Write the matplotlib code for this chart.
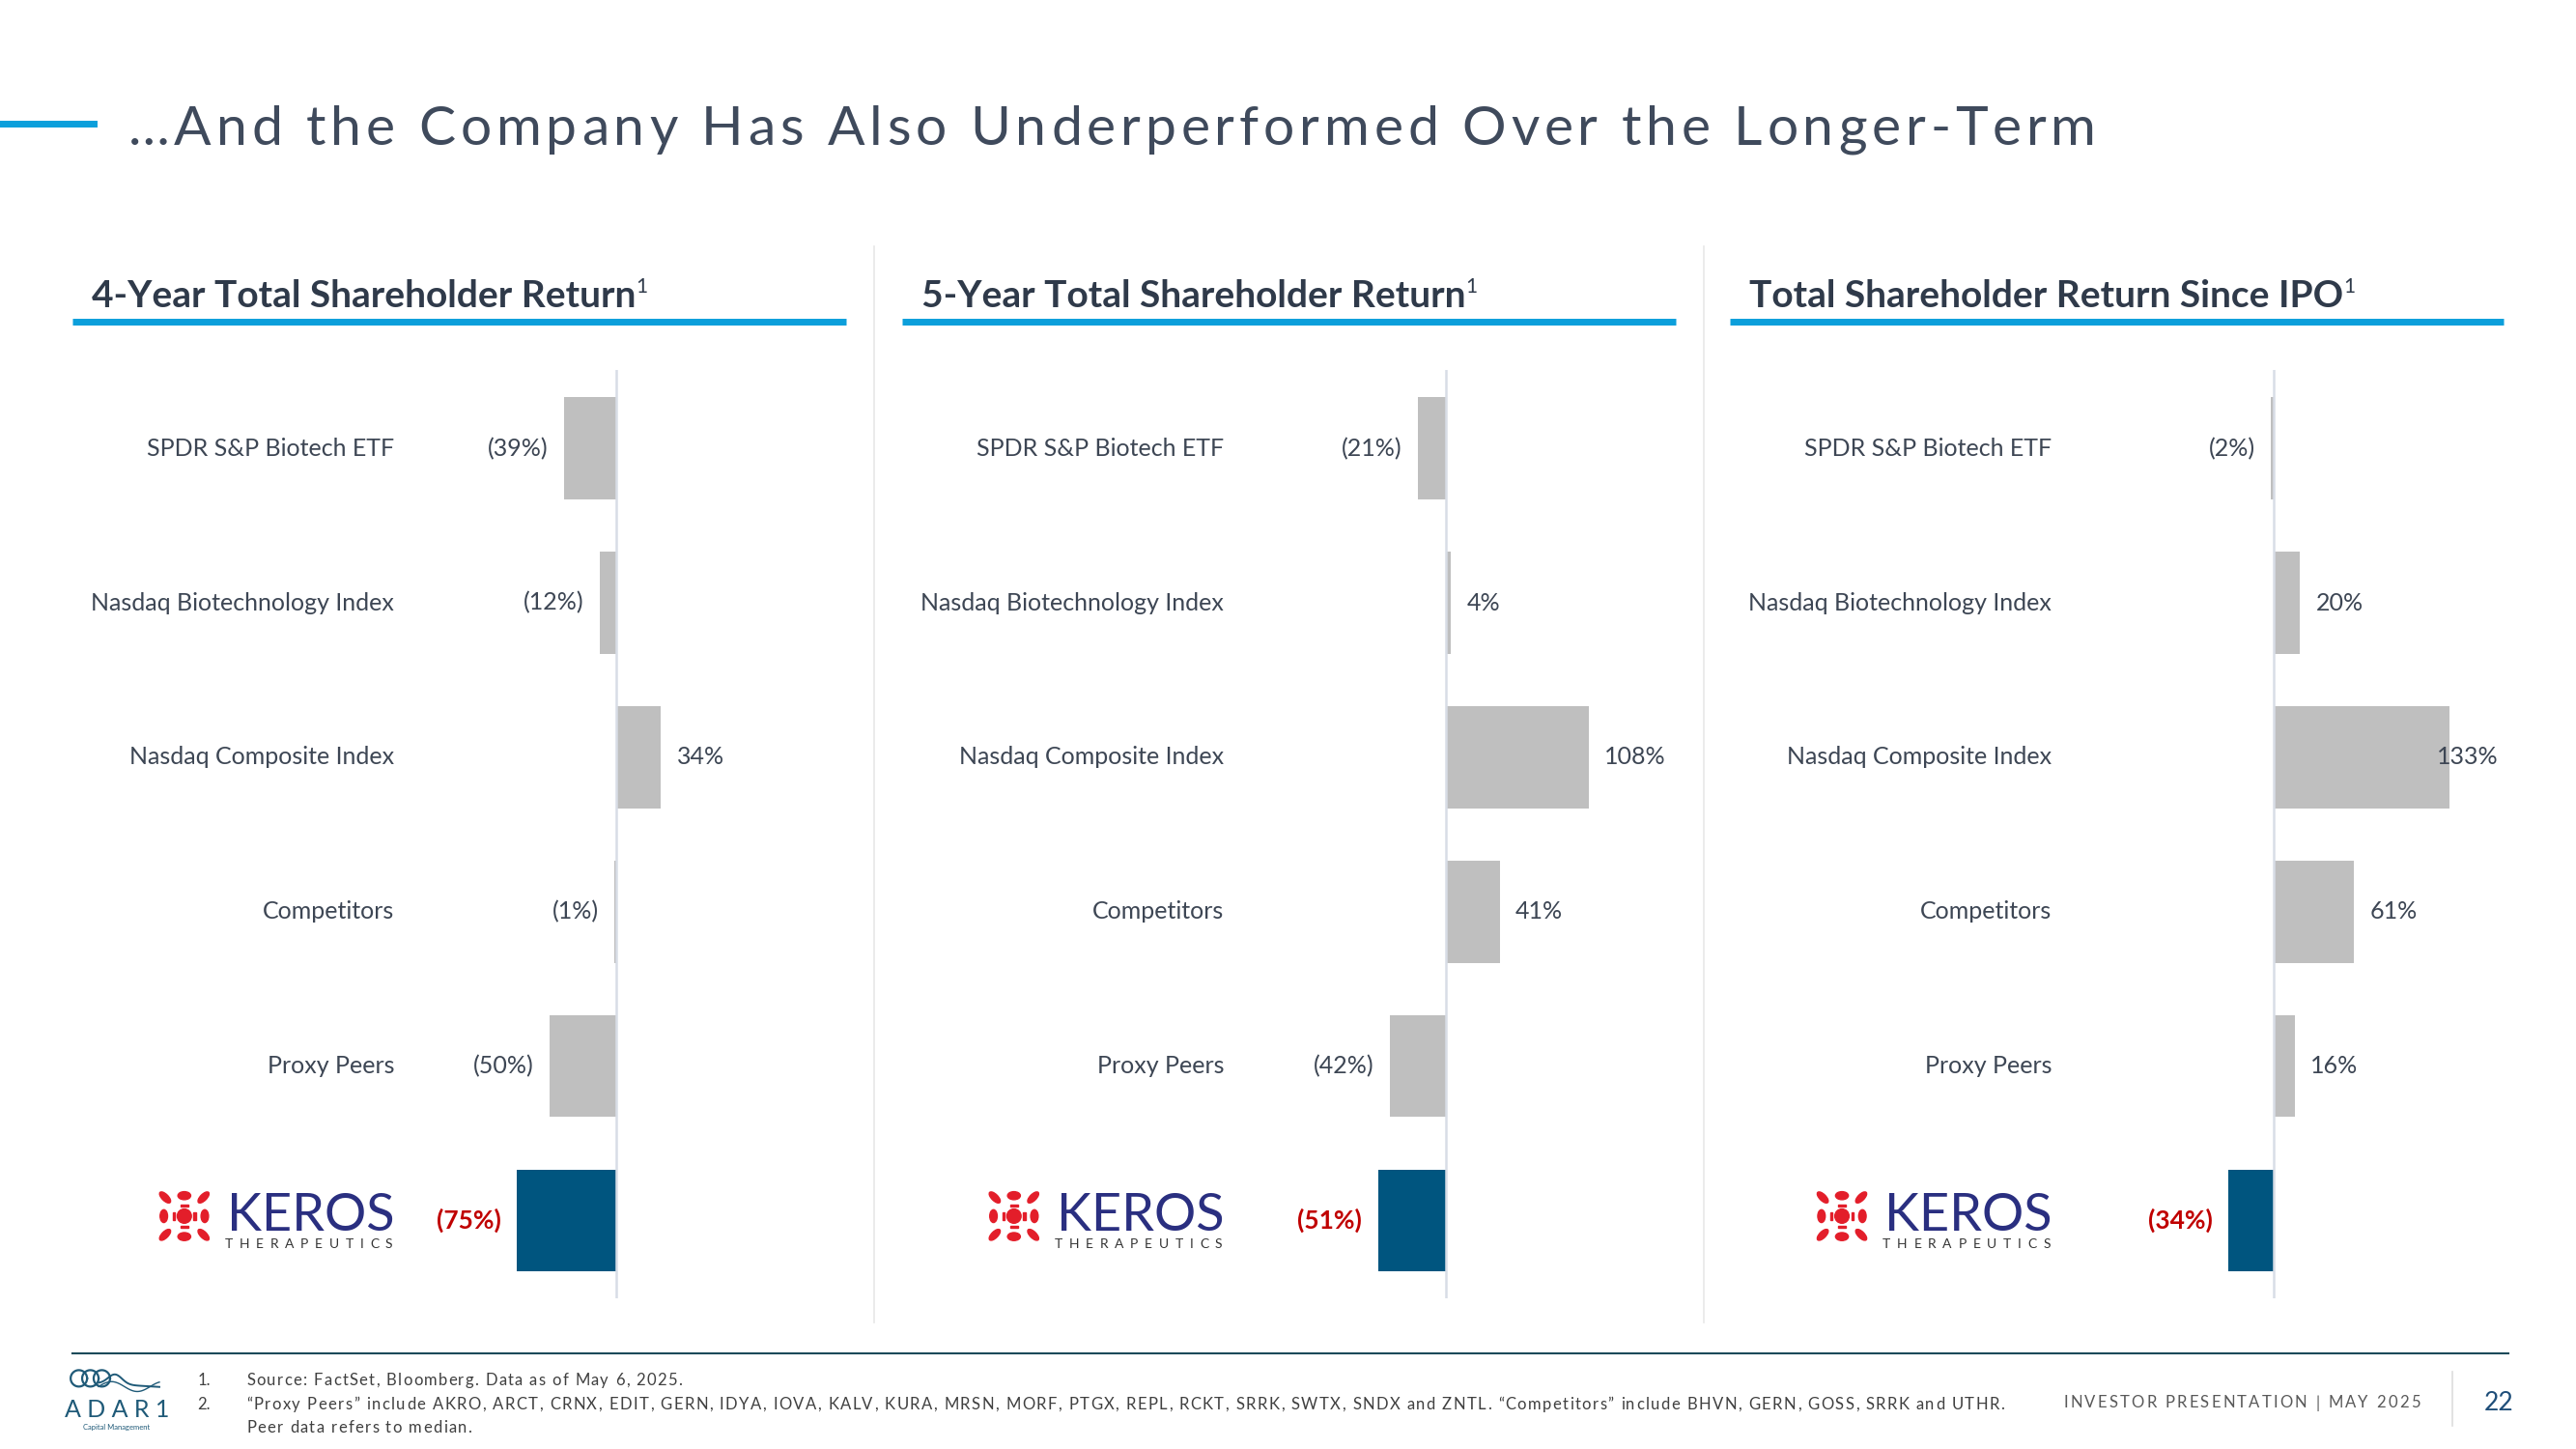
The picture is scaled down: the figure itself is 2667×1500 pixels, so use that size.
import numpy as np
import matplotlib.pyplot as plt
import matplotlib.transforms as mtrans
from matplotlib.patches import Ellipse, Rectangle, Circle

plt.rcParams['font.family'] = ['Lato', 'DejaVu Sans']

# ---- data ----
categories = ["SPDR S&P Biotech ETF", "Nasdaq Biotechnology Index",
              "Nasdaq Composite Index", "Competitors", "Proxy Peers", "Keros Therapeutics"]
tsr_4yr = [-39, -12, 34, -1, -50, -75]
tsr_5yr = [-21, 4, 108, 41, -42, -51]
tsr_ipo = [-2, 20, 133, 61, 16, -34]
panel_titles = ["4-Year Total Shareholder Return",
                "5-Year Total Shareholder Return",
                "Total Shareholder Return Since IPO"]
panel_data = [tsr_4yr, tsr_5yr, tsr_ipo]

slide_title = "\u2026And the Company Has Also Underperformed Over the Longer-Term"
footnotes = [
    ("1.", "Source: FactSet, Bloomberg. Data as of May 6, 2025."),
    ("2.", "\u201cProxy Peers\u201d include AKRO, ARCT, CRNX, EDIT, GERN, IDYA, IOVA, KALV, KURA, MRSN, MORF, PTGX, "
           "REPL, RCKT, SRRK, SWTX, SNDX and ZNTL. \u201cCompetitors\u201d include BHVN, GERN, GOSS, SRRK and UTHR."),
    ("", "Peer data refers to median."),
]

# ---- colours ----
TXT = '#3d4654'
BLUE = '#0c9fdb'
GRAY_BAR = '#bfbfbf'
KEROS_BAR = '#00557f'
RED = '#c00000'
NAVY = '#2a2f80'
TEAL = '#1f5a78'

W0, H0 = 1568.0, 882.0   # layout grid of the slide


def fx(x):
    return x / W0


def fy(y):
    return 1 - y / H0


fig = plt.figure(figsize=(26.67, 15), dpi=100)
fig.patch.set_facecolor('white')
renderer = fig.canvas.get_renderer()
px_per_unit = fig.bbox.width / W0


def text_width(s, **kw):
    # width in slide units, trailing spaces kept with a sentinel
    t = fig.text(0, 0, s + "|", **kw)
    t2 = fig.text(0, 0, "|", **kw)
    w = t.get_window_extent(renderer).width - t2.get_window_extent(renderer).width
    t.remove()
    t2.remove()
    return w / px_per_unit


def tracked_text(x, y, s, target_width, **kw):
    # letter-spaced text stretched to the width it takes on the slide
    natural = text_width(s, **kw)
    track = (target_width - natural) / max(len(s) - 1, 1)
    for i, ch in enumerate(s):
        if ch == ' ':
            continue
        xi = x + text_width(s[:i], **kw) + i * track
        fig.text(fx(xi), fy(y), ch, ha='left', **kw)


# title
fig.add_artist(plt.Line2D([fx(0), fx(57)], [fy(75), fy(75)], color=BLUE, lw=5))
tracked_text(78, 79, slide_title, 1198, fontsize=41, color='#3f4a5c', va='center')

# separators between panels
for xs in [532, 1037]:
    fig.add_artist(plt.Line2D([fx(xs), fx(xs)], [fy(150), fy(805)], color='#e8e8e8', lw=1.2))

XMIN, XMAX = -411, 174
LABEL_X = 0.416
GAP = 12


def draw_keros_icon(x0, y0, size):
    iax = fig.add_axes([fx(x0), fy(y0 + size), fx(size), size / H0])
    iax.set_xlim(0, 3)
    iax.set_ylim(0, 3)
    iax.set_aspect('equal')
    iax.axis('off')
    red = '#e31e2a'
    iax.add_patch(Circle((1.5, 1.5), 0.4, color=red))
    for (cx, cy, w, h) in [(1.5, 2.65, 0.72, 0.45), (1.5, 0.35, 0.72, 0.45),
                           (0.35, 1.5, 0.42, 0.72), (2.65, 1.5, 0.42, 0.72)]:
        iax.add_patch(Ellipse((cx, cy), w, h, color=red))
    for (cx, cy, w, h) in [(1.5, 2.08, 0.42, 0.12), (1.5, 0.92, 0.42, 0.12),
                           (0.92, 1.5, 0.12, 0.42), (2.08, 1.5, 0.12, 0.42)]:
        iax.add_patch(Rectangle((cx - w / 2, cy - h / 2), w, h, color=red))
    for (cx, cy, ang) in [(0.42, 2.55, -45), (2.58, 2.55, 45), (0.42, 0.45, 45), (2.58, 0.45, -45)]:
        iax.add_patch(Ellipse((cx, cy), 0.8, 0.36, angle=ang, color=red))


panel_lefts = [44, 549, 1053]
for p, (left, title, vals) in enumerate(zip(panel_lefts, panel_titles, panel_data)):
    # header + underline
    hkw = dict(fontsize=28, fontweight='bold', color='#2f3a4a')
    fig.text(fx(left + 12), fy(187), title, ha='left', va='baseline', **hkw)
    hw = text_width(title, **hkw)
    fig.text(fx(left + 12 + hw), fy(178), "1", fontsize=15, color='#2f3a4a',
             ha='left', va='baseline')
    fig.add_artist(plt.Line2D([fx(left), fx(left + 471)], [fy(196), fy(196)], color=BLUE, lw=5,
                              solid_capstyle='butt'))

    ax = fig.add_axes([fx(left), fy(790), fx(471), (790 - 225) / H0])
    ypos = np.arange(len(categories))
    colors = [GRAY_BAR] * (len(categories) - 1) + [KEROS_BAR]
    ax.barh(ypos, vals, height=0.66, color=colors, zorder=2)
    ax.axvline(0, color='#d8dde6', lw=1.8, zorder=3)
    ax.set_xlim(XMIN, XMAX)
    ax.set_ylim(5.5, -0.51)
    ax.axis('off')

    trans = mtrans.blended_transform_factory(ax.transAxes, ax.transData)
    for i, (cat, v) in enumerate(zip(categories, vals)):
        last = i == len(categories) - 1
        if not last:
            ax.text(LABEL_X, i, cat, transform=trans, ha='right', va='center',
                    fontsize=18, color=TXT)
        lab = f"({abs(v)}%)" if v < 0 else f"{v}%"
        kw = dict(va='center', fontsize=19 if last else 18, color=RED if last else TXT,
                  fontweight='bold' if last else 'normal')
        if v < 0:
            ax.text(v - GAP, i, lab, ha='right', **kw)
        elif v + GAP + 50 > XMAX:
            ax.text(XMAX - 4, i, lab, ha='right', **kw)
        else:
            ax.text(v + GAP, i, lab, ha='left', **kw)

    # Keros logo in place of the last label
    lab_right = left + LABEL_X * 471
    ax.text(LABEL_X, 5 - 0.03, "KEROS", transform=trans, ha='right', va='center',
            fontsize=39, color=NAVY)
    tracked_text(lab_right - 103, 757.5, "THERAPEUTICS", 102, fontsize=10, color='#333333',
                 va='center')
    draw_keros_icon(lab_right - 144, 724, 32.5)

# footer rule
fig.add_artist(plt.Line2D([fx(44), fx(1527)], [fy(824), fy(824)], color='#1c4b5a', lw=1.5))

# ADAR1 logo
lax = fig.add_axes([fx(40), fy(848), fx(58), 18 / H0])
lax.set_xlim(0, 58)
lax.set_ylim(0, 18)
lax.axis('off')
tt = np.linspace(0, 2 * np.pi, 200)
for cx in [8, 15, 22]:
    lax.plot(cx + 5 * np.cos(tt), 9 + 5 * np.sin(tt), color=TEAL, lw=1.6)
sx = np.linspace(20, 57, 100)
lax.plot(sx, 6 + 6 * np.exp(-((sx - 30) / 6) ** 2) - 0.06 * (sx - 20), color=TEAL, lw=1.4)
lax.plot(sx, 4 + 3 * np.sin((sx - 20) / 5), color=TEAL, lw=1.0)
fig.text(fx(71), fy(858), "A D A R 1", fontsize=18, color=TEAL, ha='center', va='center')
fig.text(fx(71), fy(869), "Capital Management", fontsize=5.5, color=TEAL, ha='center', va='center')

# footnotes
fkw = dict(fontsize=12, color='#404040', va='center')
line_widths = [265, 1070, 137]
for (num, txt), yy, wd in zip(footnotes, [840, 855, 869], line_widths):
    if num:
        fig.text(fx(120), fy(yy), num, ha='left', **fkw)
    tracked_text(150, yy, txt, wd, **fkw)

tracked_text(1256, 854, "INVESTOR PRESENTATION | MAY 2025", 217, fontsize=12, color='#595959',
             va='center')
fig.add_artist(plt.Line2D([fx(1493), fx(1493)], [fy(835), fy(868)], color='#dddddd', lw=1.2))
fig.text(fx(1521), fy(854), "22", fontsize=19, color='#1f4e79', ha='center', va='center')

fig.savefig('out.png', dpi=100, facecolor='white')
